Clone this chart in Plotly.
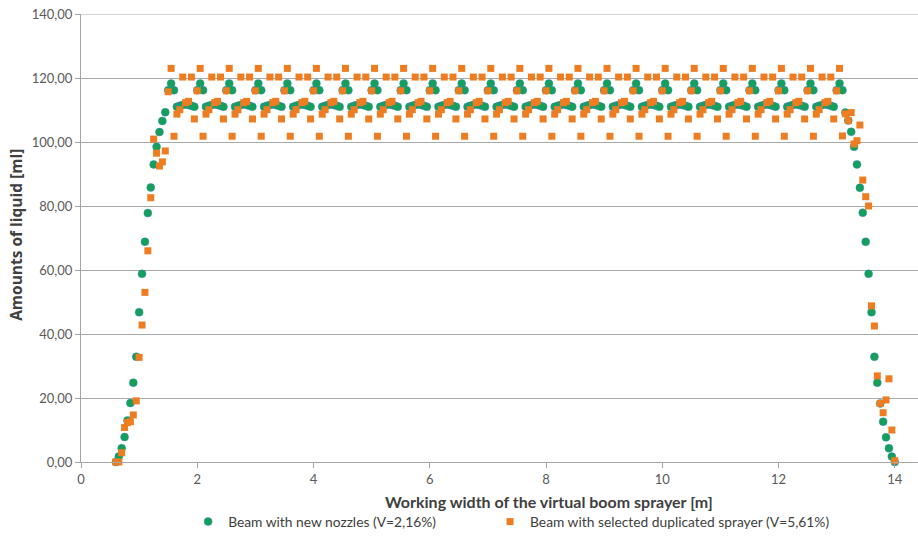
import plotly.graph_objects as go

# x positions [m] (rows of 10)
x_m = [
    0.60, 0.65, 0.70, 0.75, 0.80, 0.85, 0.90, 0.95, 1.00, 1.05,
    1.10, 1.15, 1.20, 1.25, 1.30, 1.35, 1.40, 1.45, 1.50, 1.55,
    1.60, 1.65, 1.70, 1.75, 1.80, 1.85, 1.90, 1.95, 2.00, 2.05,
    2.10, 2.15, 2.20, 2.25, 2.30, 2.35, 2.40, 2.45, 2.50, 2.55,
    2.60, 2.65, 2.70, 2.75, 2.80, 2.85, 2.90, 2.95, 3.00, 3.05,
    3.10, 3.15, 3.20, 3.25, 3.30, 3.35, 3.40, 3.45, 3.50, 3.55,
    3.60, 3.65, 3.70, 3.75, 3.80, 3.85, 3.90, 3.95, 4.00, 4.05,
    4.10, 4.15, 4.20, 4.25, 4.30, 4.35, 4.40, 4.45, 4.50, 4.55,
    4.60, 4.65, 4.70, 4.75, 4.80, 4.85, 4.90, 4.95, 5.00, 5.05,
    5.10, 5.15, 5.20, 5.25, 5.30, 5.35, 5.40, 5.45, 5.50, 5.55,
    5.60, 5.65, 5.70, 5.75, 5.80, 5.85, 5.90, 5.95, 6.00, 6.05,
    6.10, 6.15, 6.20, 6.25, 6.30, 6.35, 6.40, 6.45, 6.50, 6.55,
    6.60, 6.65, 6.70, 6.75, 6.80, 6.85, 6.90, 6.95, 7.00, 7.05,
    7.10, 7.15, 7.20, 7.25, 7.30, 7.35, 7.40, 7.45, 7.50, 7.55,
    7.60, 7.65, 7.70, 7.75, 7.80, 7.85, 7.90, 7.95, 8.00, 8.05,
    8.10, 8.15, 8.20, 8.25, 8.30, 8.35, 8.40, 8.45, 8.50, 8.55,
    8.60, 8.65, 8.70, 8.75, 8.80, 8.85, 8.90, 8.95, 9.00, 9.05,
    9.10, 9.15, 9.20, 9.25, 9.30, 9.35, 9.40, 9.45, 9.50, 9.55,
    9.60, 9.65, 9.70, 9.75, 9.80, 9.85, 9.90, 9.95, 10.00, 10.05,
    10.10, 10.15, 10.20, 10.25, 10.30, 10.35, 10.40, 10.45, 10.50, 10.55,
    10.60, 10.65, 10.70, 10.75, 10.80, 10.85, 10.90, 10.95, 11.00, 11.05,
    11.10, 11.15, 11.20, 11.25, 11.30, 11.35, 11.40, 11.45, 11.50, 11.55,
    11.60, 11.65, 11.70, 11.75, 11.80, 11.85, 11.90, 11.95, 12.00, 12.05,
    12.10, 12.15, 12.20, 12.25, 12.30, 12.35, 12.40, 12.45, 12.50, 12.55,
    12.60, 12.65, 12.70, 12.75, 12.80, 12.85, 12.90, 12.95, 13.00, 13.05,
    13.10, 13.15, 13.20, 13.25, 13.30, 13.35, 13.40, 13.45, 13.50, 13.55,
    13.60, 13.65, 13.70, 13.75, 13.80, 13.85, 13.90, 13.95, 14.00,
]

# Beam with new nozzles (V=2,16%) [ml]
new_nozzles = [
    0.0, 1.7, 4.3, 7.8, 13.0, 18.4, 24.8, 32.9, 46.8, 58.8,
    68.8, 77.8, 85.8, 93.0, 98.5, 103.1, 106.6, 109.3, 116.2, 118.3,
    116.2, 111.0, 111.3, 111.6, 111.8, 111.6, 111.3, 111.0, 116.2, 118.3,
    116.2, 111.0, 111.3, 111.6, 111.8, 111.6, 111.3, 111.0, 116.2, 118.3,
    116.2, 111.0, 111.3, 111.6, 111.8, 111.6, 111.3, 111.0, 116.2, 118.3,
    116.2, 111.0, 111.3, 111.6, 111.8, 111.6, 111.3, 111.0, 116.2, 118.3,
    116.2, 111.0, 111.3, 111.6, 111.8, 111.6, 111.3, 111.0, 116.2, 118.3,
    116.2, 111.0, 111.3, 111.6, 111.8, 111.6, 111.3, 111.0, 116.2, 118.3,
    116.2, 111.0, 111.3, 111.6, 111.8, 111.6, 111.3, 111.0, 116.2, 118.3,
    116.2, 111.0, 111.3, 111.6, 111.8, 111.6, 111.3, 111.0, 116.2, 118.3,
    116.2, 111.0, 111.3, 111.6, 111.8, 111.6, 111.3, 111.0, 116.2, 118.3,
    116.2, 111.0, 111.3, 111.6, 111.8, 111.6, 111.3, 111.0, 116.2, 118.3,
    116.2, 111.0, 111.3, 111.6, 111.8, 111.6, 111.3, 111.0, 116.2, 118.3,
    116.2, 111.0, 111.3, 111.6, 111.8, 111.6, 111.3, 111.0, 116.2, 118.3,
    116.2, 111.0, 111.3, 111.6, 111.8, 111.6, 111.3, 111.0, 116.2, 118.3,
    116.2, 111.0, 111.3, 111.6, 111.8, 111.6, 111.3, 111.0, 116.2, 118.3,
    116.2, 111.0, 111.3, 111.6, 111.8, 111.6, 111.3, 111.0, 116.2, 118.3,
    116.2, 111.0, 111.3, 111.6, 111.8, 111.6, 111.3, 111.0, 116.2, 118.3,
    116.2, 111.0, 111.3, 111.6, 111.8, 111.6, 111.3, 111.0, 116.2, 118.3,
    116.2, 111.0, 111.3, 111.6, 111.8, 111.6, 111.3, 111.0, 116.2, 118.3,
    116.2, 111.0, 111.3, 111.6, 111.8, 111.6, 111.3, 111.0, 116.2, 118.3,
    116.2, 111.0, 111.3, 111.6, 111.8, 111.6, 111.3, 111.0, 116.2, 118.3,
    116.2, 111.0, 111.3, 111.6, 111.8, 111.6, 111.3, 111.0, 116.2, 118.3,
    116.2, 111.0, 111.3, 111.6, 111.8, 111.6, 111.3, 111.0, 116.2, 118.3,
    116.2, 111.0, 111.3, 111.6, 111.8, 111.6, 111.3, 111.0, 116.2, 118.3,
    116.2, 109.2, 106.7, 103.2, 98.5, 93.0, 85.7, 77.9, 68.8, 58.8,
    46.8, 32.9, 24.8, 18.3, 12.6, 7.7, 4.3, 1.7, 0.0,
]

# Beam with selected duplicated sprayer (V=5,61%) [ml]
duplicated = [
    0.0, 0.0, 2.9, 10.8, 12.3, 12.6, 14.7, 19.1, 32.7, 42.8,
    53.0, 66.0, 82.6, 100.9, 96.5, 92.5, 93.8, 97.2, 115.7, 123.0,
    101.8, 108.7, 110.1, 120.3, 112.3, 112.7, 120.3, 107.2, 116.0, 123.0,
    101.8, 108.7, 110.1, 120.3, 112.3, 112.7, 120.3, 107.2, 116.0, 123.0,
    101.8, 108.7, 110.1, 120.3, 112.3, 112.7, 120.3, 107.2, 116.0, 123.0,
    101.8, 108.7, 110.1, 120.3, 112.3, 112.7, 120.3, 107.2, 116.0, 123.0,
    101.8, 108.7, 110.1, 120.3, 112.3, 112.7, 120.3, 107.2, 116.0, 123.0,
    101.8, 108.7, 110.1, 120.3, 112.3, 112.7, 120.3, 107.2, 116.0, 123.0,
    101.8, 108.7, 110.1, 120.3, 112.3, 112.7, 120.3, 107.2, 116.0, 123.0,
    101.8, 108.7, 110.1, 120.3, 112.3, 112.7, 120.3, 107.2, 116.0, 123.0,
    101.8, 108.7, 110.1, 120.3, 112.3, 112.7, 120.3, 107.2, 116.0, 123.0,
    101.8, 108.7, 110.1, 120.3, 112.3, 112.7, 120.3, 107.2, 116.0, 123.0,
    101.8, 108.7, 110.1, 120.3, 112.3, 112.7, 120.3, 107.2, 116.0, 123.0,
    101.8, 108.7, 110.1, 120.3, 112.3, 112.7, 120.3, 107.2, 116.0, 123.0,
    101.8, 108.7, 110.1, 120.3, 112.3, 112.7, 120.3, 107.2, 116.0, 123.0,
    101.8, 108.7, 110.1, 120.3, 112.3, 112.7, 120.3, 107.2, 116.0, 123.0,
    101.8, 108.7, 110.1, 120.3, 112.3, 112.7, 120.3, 107.2, 116.0, 123.0,
    101.8, 108.7, 110.1, 120.3, 112.3, 112.7, 120.3, 107.2, 116.0, 123.0,
    101.8, 108.7, 110.1, 120.3, 112.3, 112.7, 120.3, 107.2, 116.0, 123.0,
    101.8, 108.7, 110.1, 120.3, 112.3, 112.7, 120.3, 107.2, 116.0, 123.0,
    101.8, 108.7, 110.1, 120.3, 112.3, 112.7, 120.3, 107.2, 116.0, 123.0,
    101.8, 108.7, 110.1, 120.3, 112.3, 112.7, 120.3, 107.2, 116.0, 123.0,
    101.8, 108.7, 110.1, 120.3, 112.3, 112.7, 120.3, 107.2, 116.0, 123.0,
    101.8, 108.7, 110.1, 120.3, 112.3, 112.7, 120.3, 107.2, 116.0, 123.0,
    101.8, 108.7, 110.1, 120.3, 112.3, 112.7, 120.3, 107.2, 116.0, 123.0,
    101.9, 108.8, 106.7, 109.2, 99.4, 100.4, 105.3, 88.1, 82.9, 80.0,
    48.8, 42.5, 26.9, 18.3, 15.4, 19.4, 26.0, 10.0, 0.4,
]

y_ticks = [0, 20, 40, 60, 80, 100, 120, 140]
y_tick_labels = ["0,00", "20,00", "40,00", "60,00", "80,00", "100,00", "120,00", "140,00"]
x_ticks = [0, 2, 4, 6, 8, 10, 12, 14]

FONT = "Lato, 'Open Sans', sans-serif"
GREEN = "#14a05a"
ORANGE = "#ee7d22"
GRID = "#a9a9a9"

fig = go.Figure()
fig.add_trace(go.Scatter(
    x=x_m, y=new_nozzles, mode="markers",
    name="Beam with new nozzles (V=2,16%)", legend="legend",
    marker=dict(symbol="circle", size=8, color=GREEN,
                line=dict(width=0.6, color="rgba(60,130,200,0.7)")),
    cliponaxis=False,
))
fig.add_trace(go.Scatter(
    x=x_m, y=duplicated, mode="markers",
    name="Beam with selected duplicated sprayer (V=5,61%)", legend="legend2",
    marker=dict(symbol="square", size=7, color=ORANGE, line=dict(width=0)),
    cliponaxis=False,
))

legend_common = dict(
    orientation="h", xanchor="left", y=-0.133, yanchor="middle",
    font=dict(family=FONT, size=13.8, color="#404040"),
    itemsizing="trace", bgcolor="rgba(0,0,0,0)",
)

fig.update_layout(
    width=918, height=557,
    margin=dict(l=81, r=0, t=14, b=95, autoexpand=False),
    paper_bgcolor="white", plot_bgcolor="white",
    font=dict(family=FONT, size=13, color="#595959"),
    showlegend=True,
    legend=dict(x=0.128, **legend_common),
    legend2=dict(x=0.4887, **legend_common),
    xaxis=dict(
        range=[0, 14.4], tickvals=x_ticks, ticktext=[str(v) for v in x_ticks],
        showgrid=False, zeroline=False, showline=True, linecolor="#a6a6a6", linewidth=1,
        ticks="outside", ticklen=5, tickcolor="#a6a6a6",
        tickfont=dict(family=FONT, size=13, color="#595959"),
        ticklabeloverflow="allow",
    ),
    yaxis=dict(
        range=[0, 140], tickvals=y_ticks, ticktext=y_tick_labels,
        showgrid=True, gridcolor=GRID, gridwidth=1, zeroline=False,
        showline=True, linecolor="#a6a6a6", linewidth=1,
        ticks="outside", ticklen=5, tickcolor="#a6a6a6",
        tickfont=dict(family=FONT, size=13, color="#595959"),
        ticklabeloverflow="allow",
    ),
    shapes=[
        dict(type="line", xref="paper", yref="y", x0=0, x1=1, y0=140, y1=140,
             line=dict(color=GRID, width=1), layer="below"),
    ],
    annotations=[
        dict(text="<b>Working width of the virtual boom sprayer [m]</b>",
             xref="paper", yref="paper", x=0.559, y=-0.088,
             xanchor="center", yanchor="middle", showarrow=False,
             font=dict(family=FONT, size=16, color="#404040")),
        dict(text="<b>Amounts of liquid [ml]</b>",
             xref="paper", yref="paper", x=-0.077, y=0.506,
             xanchor="center", yanchor="middle", showarrow=False, textangle=-90,
             font=dict(family="'Open Sans', sans-serif", size=15.5, color="#404040")),
    ],
)

# remove the browser's default 8 px body margin so the figure sits at the page origin
fig.write_html("out.html", config={"displayModeBar": False},
               post_script="document.body.style.margin='0';")
